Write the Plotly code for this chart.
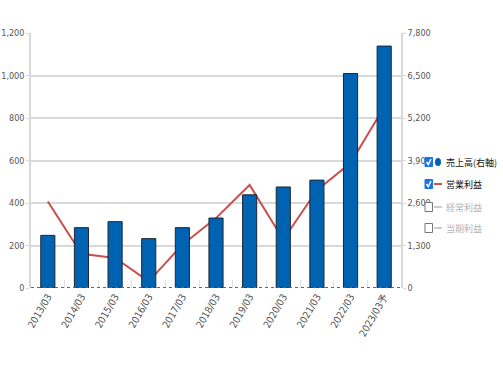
import plotly.graph_objects as go

categories = ["2013/03", "2014/03", "2015/03", "2016/03", "2017/03", "2018/03",
              "2019/03", "2020/03", "2021/03", "2022/03", "2023/03予"]
sales = [1610, 1845, 2030, 1510, 1845, 2140, 2850, 3090, 3300, 6560, 7400]
operating_profit = [407, 161, 141, 31, 204, 329, 485, 227, 460, 588, 852]

left_ticks = [0, 200, 400, 600, 800, 1000, 1200]
right_ticks = [0, 1300, 2600, 3900, 5200, 6500, 7800]

FONT = "DejaVu Sans Condensed, Liberation Sans Narrow, Noto Sans CJK JP, sans-serif"
CJK = "Noto Sans CJK JP, sans-serif"

fig = go.Figure()
fig.add_trace(go.Bar(
    x=categories, y=sales, yaxis="y2", name="売上高(右軸)",
    marker=dict(color="#0063B1", line=dict(color="#1b2633", width=1)),
    width=0.42, showlegend=False,
))
fig.add_trace(go.Scatter(
    x=categories, y=operating_profit, yaxis="y", name="営業利益",
    mode="lines", line=dict(color="#C9504D", width=2), showlegend=False,
))

fig.update_layout(
    width=503, height=373,
    margin=dict(l=31, r=102, t=33, b=85),
    paper_bgcolor="white", plot_bgcolor="white",
    font=dict(family=FONT, size=9, color="#555555"),
    xaxis=dict(
        type="category", tickangle=-60, tickfont=dict(size=10, color="#555555"),
        showgrid=False, ticks="inside", ticklen=8, tickcolor="#e0e0e0",
        tickson="boundaries", showline=False, zeroline=False, automargin=False,
    ),
    yaxis=dict(
        range=[0, 1200], tickvals=left_ticks, tickformat=",",
        showgrid=True, gridcolor="#d9d9d9", gridwidth=1.5,
        showline=True, linecolor="#d9d9d9", linewidth=1.5,
        ticks="outside", ticklen=3, tickcolor="#d9d9d9", zeroline=False,
        automargin=False,
    ),
    yaxis2=dict(
        range=[0, 7800], tickvals=right_ticks, tickformat=",",
        overlaying="y", side="right", showgrid=False,
        showline=True, linecolor="#d9d9d9", linewidth=1.5,
        ticks="outside", ticklen=3, tickcolor="#d9d9d9", zeroline=False,
        automargin=False,
    ),
    bargap=0.58,
)

# dotted zero line
fig.add_shape(type="line", xref="paper", yref="y", x0=0, x1=1, y0=0, y1=0,
              line=dict(color="#6a5a8c", width=2, dash="dot"))

# manual legend with checkboxes (positions in page pixels -> paper coords)
def px_x(px):
    return (px - 31) / 370

def px_y(py):
    return (288 - py) / 255

legend_items = [
    ("売上高(右軸)", True, "circle", "#0063B1", "#111111", 162),
    ("営業利益", True, "line", "#C9504D", "#111111", 184),
    ("経常利益", False, "line", "#cccccc", "#b5b5b5", 207),
    ("当期利益", False, "line", "#cccccc", "#b5b5b5", 228),
]
for label, checked, kind, mcolor, tcolor, cy in legend_items:
    if checked:
        fig.add_shape(type="rect", xref="paper", yref="paper",
                      x0=px_x(425), x1=px_x(432.5), y0=px_y(cy + 4.5), y1=px_y(cy - 4.5),
                      fillcolor="#1a73e8", line=dict(color="#1a73e8", width=1))
        path = "M {} {} L {} {} L {} {}".format(
            px_x(426.5), px_y(cy), px_x(428.3), px_y(cy + 2.5), px_x(431), px_y(cy - 3))
        fig.add_shape(type="path", xref="paper", yref="paper", path=path,
                      line=dict(color="white", width=1.5))
    else:
        fig.add_shape(type="rect", xref="paper", yref="paper",
                      x0=px_x(425), x1=px_x(432.5), y0=px_y(cy + 4.5), y1=px_y(cy - 4.5),
                      fillcolor="white", line=dict(color="#777777", width=1))
    if kind == "circle":
        fig.add_shape(type="circle", xref="paper", yref="paper",
                      x0=px_x(435), x1=px_x(441), y0=px_y(cy + 4), y1=px_y(cy - 4),
                      fillcolor=mcolor, line=dict(color=mcolor, width=0))
    else:
        fig.add_shape(type="line", xref="paper", yref="paper",
                      x0=px_x(434), x1=px_x(442), y0=px_y(cy), y1=px_y(cy),
                      line=dict(color=mcolor, width=2))
    fig.add_annotation(x=px_x(444), y=px_y(cy), xref="paper", yref="paper",
                       text=label, showarrow=False, xanchor="left", yanchor="middle",
                       font=dict(color=tcolor, size=9, family=CJK))

fig.write_html(
    "out.html",
    config={"displayModeBar": False},
    post_script="document.body.style.margin='0';document.body.style.overflow='hidden';",
)
